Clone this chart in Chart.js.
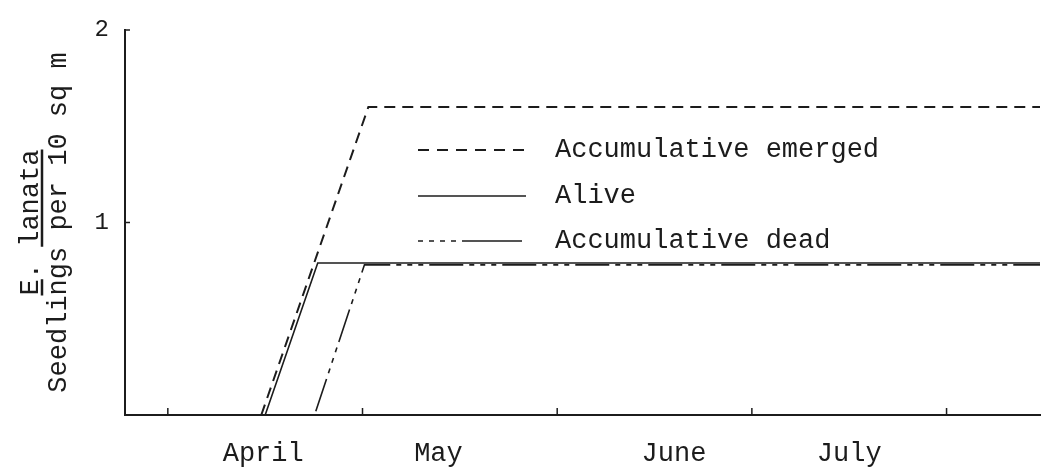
<!DOCTYPE html>
<html>
<head>
<meta charset="utf-8">
<script src="https://cdn.jsdelivr.net/npm/chart.js@4/dist/chart.umd.min.js"></script>
<style>
  body { margin: 0; background: #fff; }
  canvas { display: block; }
</style>
</head>
<body>
<canvas id="chart" width="1046" height="469"></canvas>
<script>
// month boundaries (tick marks) and where the month names sit
const monthEdges = [0, 1, 2, 3, 4];
const monthNames = ["April", "May", "June", "July"];
const monthLabelAt = [0.49, 1.39, 2.6, 3.5];
const yTickValues = [1, 2];

// seedlings per 10 sq m, x in months from start of April
const emergedX = [0.48, 1.03, 4.48];
const emergedY = [0, 1.6, 1.6];
const aliveX = [0.5, 0.77, 4.48];
const aliveY = [0, 0.79, 0.79];
const deadX = [0.76, 1.01, 4.48];
const deadY = [0.02, 0.78, 0.78];

const INK = "#1c1c1c";
const FONT = "Liberation Mono";

const pts = (xs, ys) => xs.map((x, i) => ({ x: x, y: ys[i] }));

const decor = {
  id: "decor",
  afterDraw(chart) {
    const c = chart.ctx;
    const xs = chart.scales.x;
    const ys = chart.scales.y;
    const area = chart.chartArea;
    c.save();
    c.strokeStyle = INK;
    c.lineWidth = 1.5;
    // inside tick marks
    monthEdges.forEach((v) => {
      const px = xs.getPixelForValue(v);
      c.beginPath();
      c.moveTo(px, area.bottom);
      c.lineTo(px, area.bottom - 7);
      c.stroke();
    });
    yTickValues.forEach((v) => {
      const py = ys.getPixelForValue(v);
      c.beginPath();
      c.moveTo(area.left, py);
      c.lineTo(area.left + 5, py);
      c.stroke();
    });

    // legend
    const rows = [
      { ds: 0, y: 150, dash: [11, 8] },
      { ds: 1, y: 196, dash: [] },
      { ds: 2, y: 241, dash: [5, 6, 5, 6, 5, 6, 5, 6, 60] },
    ];
    c.font = "27px '" + FONT + "'";
    c.fillStyle = INK;
    c.textBaseline = "middle";
    rows.forEach((r) => {
      const ds = chart.data.datasets[r.ds];
      c.lineWidth = ds.borderWidth;
      c.setLineDash(r.dash);
      c.beginPath();
      c.moveTo(418, r.y);
      c.lineTo(526, r.y);
      c.stroke();
      c.setLineDash([]);
      c.fillText(ds.label, 555, r.y);
    });

    // y title: "E. lanata" over "Seedlings per 10 sq m"
    const midY = (area.top + area.bottom) / 2;
    c.translate(0, midY);
    c.rotate(-Math.PI / 2);
    c.textAlign = "center";
    c.textBaseline = "alphabetic";
    const top = "E. lanata";
    const w = c.measureText(top).width;
    c.fillText(top, 0, 38);
    c.fillText("Seedlings per 10 sq m", 0, 66);
    const ch = w / top.length;
    c.lineWidth = 2.5;
    c.beginPath();
    c.moveTo(-w / 2, 42);
    c.lineTo(-w / 2 + ch, 42);
    c.moveTo(-w / 2 + 3 * ch, 42);
    c.lineTo(w / 2, 42);
    c.stroke();
    c.restore();
  },
};

new Chart(document.getElementById("chart"), {
  type: "line",
  data: {
    datasets: [
      {
        label: "Accumulative emerged",
        data: pts(emergedX, emergedY),
        borderColor: INK,
        borderWidth: 2,
        borderDash: [11, 7],
      },
      {
        label: "Alive",
        data: pts(aliveX, aliveY),
        borderColor: INK,
        borderWidth: 1.6,
      },
      {
        label: "Accumulative dead",
        data: pts(deadX, deadY),
        borderColor: INK,
        borderWidth: 1.6,
        borderDash: [34, 6, 5, 6, 5, 6, 5, 6],
      },
    ],
  },
  options: {
    responsive: false,
    animation: false,
    devicePixelRatio: 1,
    layout: { padding: { top: 30, right: 6, left: 0, bottom: 0 } },
    elements: { point: { radius: 0 }, line: { tension: 0 } },
    plugins: { legend: { display: false }, tooltip: { enabled: false } },
    scales: {
      x: {
        type: "linear",
        min: -0.22,
        max: 4.48,
        grid: { display: false },
        border: { color: INK, width: 2 },
        afterBuildTicks: (s) => {
          s.ticks = monthLabelAt.map((v) => ({ value: v }));
        },
        afterFit: (s) => {
          s.height = 54;
        },
        ticks: {
          callback: (v, i) => monthNames[i],
          autoSkip: false,
          maxRotation: 0,
          padding: 15,
          color: INK,
          font: { family: FONT, size: 27 },
        },
      },
      y: {
        min: 0,
        max: 2,
        grid: { display: false },
        border: { color: INK, width: 2 },
        afterBuildTicks: (s) => {
          s.ticks = yTickValues.map((v) => ({ value: v }));
        },
        afterFit: (s) => {
          s.width = 125;
        },
        ticks: {
          padding: 8,
          color: INK,
          font: { family: FONT, size: 24 },
        },
      },
    },
  },
  plugins: [decor],
});
</script>
</body>
</html>
